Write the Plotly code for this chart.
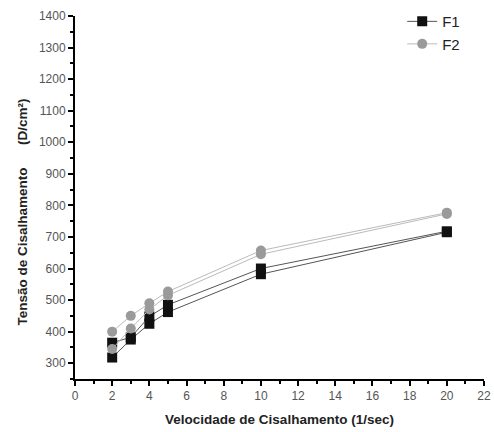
import plotly.graph_objects as go

shear_rate = [2, 3, 4, 5, 10, 20]
f1_up = [318, 375, 425, 462, 582, 715]
f1_down = [365, 382, 448, 485, 600, 718]
f2_up = [345, 410, 470, 515, 645, 773]
f2_down = [400, 450, 490, 527, 657, 777]

fig = go.Figure()

def add(y, name, color, line_color, symbol, show):
    fig.add_trace(go.Scatter(
        x=shear_rate, y=y, name=name, mode="lines+markers",
        legendgroup=name, showlegend=show,
        line=dict(color=line_color, width=1),
        marker=dict(symbol=symbol, size=10, color=color),
    ))

add(f1_up, "F1", "#111111", "#555555", "square", True)
add(f1_down, "F1", "#111111", "#555555", "square", False)
add(f2_up, "F2", "#9a9a9a", "#bbbbbb", "circle", True)
add(f2_down, "F2", "#9a9a9a", "#bbbbbb", "circle", False)

tickfont = dict(family="Liberation Sans, Arial", size=12, color="#555555")

fig.update_layout(
    width=494, height=432,
    margin=dict(l=75, r=3, t=16, b=53),
    paper_bgcolor="white", plot_bgcolor="white",
    showlegend=True,
    legend=dict(x=0.80, y=1.03, xanchor="left", yanchor="top",
                bgcolor="rgba(0,0,0,0)", font=dict(family="Liberation Sans, Arial", size=15, color="#222"),
                itemwidth=30, tracegroupgap=0),
    xaxis=dict(range=[0, 22], tick0=0, dtick=2, showline=True, linecolor="black", linewidth=2,
               ticks="outside", ticklen=5, tickwidth=1.5, tickcolor="black",
               minor=dict(dtick=1, ticks="outside", ticklen=3, tickcolor="black", tickwidth=1.5),
               showgrid=False, zeroline=False, tickfont=tickfont, ticklabeloverflow="allow",
               title=dict(text="<b>Velocidade de Cisalhamento (1/sec)</b>",
                          font=dict(family="Liberation Sans, Arial", size=13.5, color="#222"), standoff=12)),
    yaxis=dict(range=[250, 1400], tick0=300, dtick=100, showline=True, linecolor="black", linewidth=2,
               ticks="outside", ticklen=5, tickwidth=1.5, tickcolor="black",
               minor=dict(dtick=50, ticks="outside", ticklen=3, tickcolor="black", tickwidth=1.5),
               showgrid=False, zeroline=False, tickfont=tickfont),
)

fig.add_annotation(
    text="<b>Tensão de Cisalhamento      (D/cm²)</b>",
    textangle=-90, xref="paper", yref="paper", x=0, y=0.46,
    xshift=-62, showarrow=False,
    font=dict(family="Liberation Sans Narrow, Liberation Sans, Arial", size=13.5, color="#222"),
)

fig.write_html("out.html")
